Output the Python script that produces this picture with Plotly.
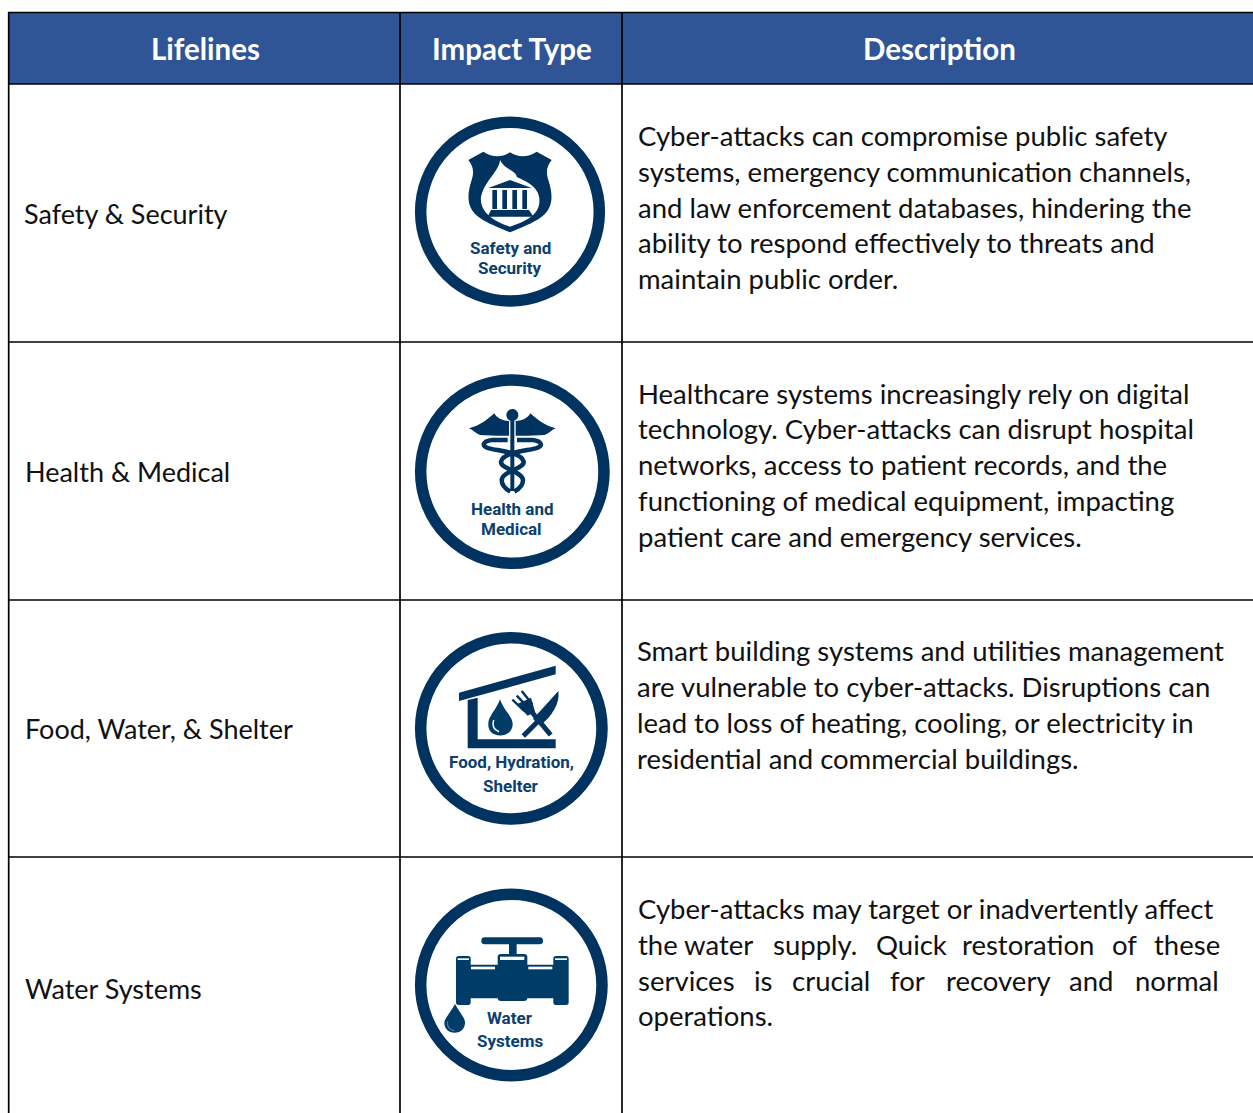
import re
import plotly.graph_objects as go

W, H = 1253, 1113
NAVY = "#00335f"
NAVY2 = "#003c68"
TXT = "#111111"
HEADER = "#2f5597"

headers = ["Lifelines", "Impact Type", "Description"]
header_x = [205, 512, 939]
lifelines = ["Safety &amp; Security", "Health &amp; Medical", "Food, Water, &amp; Shelter", "Water Systems"]
lifeline_x = [24, 25, 25, 25]
lifeline_y = [213, 471, 728, 988]
desc_lines = [
    ["Cyber-attacks can compromise public safety", "systems, emergency communication channels,",
     "and law enforcement databases, hindering the", "ability to respond effectively to threats and",
     "maintain public order."],
    ["Healthcare systems increasingly rely on digital", "technology. Cyber-attacks can disrupt hospital",
     "networks, access to patient records, and the", "functioning of medical equipment, impacting",
     "patient care and emergency services."],
    ["Smart building systems and utilities management", "are vulnerable to cyber-attacks. Disruptions can",
     "lead to loss of heating, cooling, or electricity in", "residential and commercial buildings."],
    ["Cyber-attacks may target or inadvertently affect", "operations."],
]
desc_y = [[135, 171, 207, 242, 278], [393, 428, 464, 500, 536], [650, 686, 722, 758], [908, 1015]]
desc_x = [638, 638, 637, 638]
justified_words = [["the", "water", "supply.", "Quick", "restoration", "of", "these"],
                   ["services", "is", "crucial", "for", "recovery", "and", "normal"]]
justified_x = [[638, 684.4, 773, 875.5, 961.8, 1111.5, 1153.6],
               [638, 754, 792, 890, 946, 1069, 1135]]
justified_y = [944, 980]
icon_labels = [["Safety and", "Security"], ["Health and", "Medical"], ["Food, Hydration,", "Shelter"], ["Water", "Systems"]]
icon_label_x = [[510, 510], [511.7, 511.7], [511, 511], [510, 510]]
icon_label_y = [[247.7, 268], [509, 529], [761.7, 785.7], [1018, 1040.7]]
icon_origin = [(405, 105), (405, 365), (405, 625), (405, 880)]
ring_center = [(315, 320), (322, 320), (319, 310), (319, 315)]
ring_radius = [285, 292, 289, 289]

shapes = []


def add(d, ox, oy, fill=NAVY, line=None, width=0):
    nums = iter(re.findall(r"-?\d+\.?\d*|[A-Za-z]", d))
    out, is_x = [], True
    for t in nums:
        if t.isalpha():
            out.append(t)
            is_x = True
        else:
            v = float(t) / 3 + (ox if is_x else oy)
            out.append(f"{v:.2f}")
            is_x = not is_x
    s = dict(type="path", xref="x", yref="y", path=" ".join(out), layer="above",
             fillcolor=fill if fill else "rgba(0,0,0,0)",
             line=dict(color=line if line else "rgba(0,0,0,0)", width=width))
    shapes.append(s)


def rect(x0, y0, x1, y1, ox, oy, fill=NAVY):
    add(f"M{x0},{y0} L{x1},{y0} L{x1},{y1} L{x0},{y1} Z", ox, oy, fill)


def rrect(x0, y0, x1, y1, r, ox, oy, fill=NAVY):
    add(f"M{x0 + r},{y0} L{x1 - r},{y0} Q{x1},{y0} {x1},{y0 + r} L{x1},{y1 - r} Q{x1},{y1} {x1 - r},{y1} "
        f"L{x0 + r},{y1} Q{x0},{y1} {x0},{y1 - r} L{x0},{y0 + r} Q{x0},{y0} {x0 + r},{y0} Z", ox, oy, fill)


def stroke(d, ox, oy, width, color=NAVY):
    add(d, ox, oy, None, color, width)


# table frame
shapes.append(dict(type="rect", xref="x", yref="y", x0=8.5, x1=W + 2, y0=12, y1=84, fillcolor=HEADER,
                   line=dict(width=0), layer="below"))
LINE = dict(color="#000000", width=1.7)
for y in [12.5, 84, 342, 600, 857]:
    shapes.append(dict(type="line", xref="x", yref="y", x0=8, x1=W + 2, y0=y, y1=y, line=LINE))
for x in [8.7, 400, 622]:
    shapes.append(dict(type="line", xref="x", yref="y", x0=x, x1=x, y0=12, y1=H + 2, line=LINE))

# rings
for (ox, oy), (cx, cy), r in zip(icon_origin, ring_center, ring_radius):
    mid = (r - 17) / 3
    px, py = ox + cx / 3, oy + cy / 3
    shapes.append(dict(type="circle", xref="x", yref="y", x0=px - mid, x1=px + mid, y0=py - mid, y1=py + mid,
                       line=dict(color=NAVY, width=11.5), fillcolor="#ffffff"))

# icon 1 shield
ox, oy = icon_origin[0]
add("M190,165 L235,140 C262,158 292,158 315,142 C340,158 368,158 395,140 L440,165 C425,185 422,200 430,225 "
    "C445,270 445,310 410,335 C385,355 345,368 315,382 C285,368 245,355 220,335 C185,310 185,270 200,225 "
    "C208,200 205,185 190,165 Z", ox, oy)
add("M285,165 C282,200 240,225 228,275 C222,325 275,352 315,365 C360,350 408,330 403,280 "
    "C400,245 362,228 335,216 C336,198 300,195 285,165 Z", ox, oy, "#ffffff")
add("M250,249 L315,225 L380,249 Z", ox, oy)
for a in [262, 292, 322, 352]:
    rect(a, 255, a + 14, 312, ox, oy)
add("M258,315 L372,315 L385,335 L248,335 Z", ox, oy)

# icon 2 caduceus
ox, oy = icon_origin[1]
add("M304,150 C304,140 312,132 322,132 C332,132 340,140 340,150 C340,160 332,168 322,168 C312,168 304,160 304,150 Z", ox, oy)
rect(316, 165, 328, 378, ox, oy)
add("M192,190 C225,182 245,165 268,145 C275,160 295,168 312,168 L312,212 C285,214 250,210 225,210 "
    "C212,206 205,195 192,190 Z", ox, oy)
add("M452,190 C419,182 399,165 376,145 C369,160 349,168 332,168 L332,212 C359,214 394,210 419,210 "
    "C432,206 439,195 452,190 Z", ox, oy)
stroke("M308,225 L262,225 C232,228 228,245 252,250 C285,258 350,262 356,290 C358,312 292,318 290,345 "
       "C290,360 302,372 316,380", ox, oy, 4.5)
stroke("M336,225 L382,225 C412,228 416,245 392,250 C359,258 294,262 288,290 C286,312 352,318 354,345 "
       "C354,360 342,372 328,380", ox, oy, 4.5)

# icon 3 shelter
ox, oy = icon_origin[2]
add("M162,203 L452,122 L452,148 L162,228 Z", ox, oy)
add("M188,225 L218,218 L218,343 L452,343 L452,370 L188,370 Z", ox, oy)
add("M285,223 C298,260 325,275 323,300 C320,342 250,342 250,300 C248,275 272,258 285,223 Z", ox, oy, NAVY2)
stroke("M266,285 C260,305 268,315 282,320", ox, oy, 1.5, "#ffffff")
stroke("M378,258 L437,330", ox, oy, 5)
stroke("M322,224 L358,258", ox, oy, 2.4)
stroke("M335,212 L370,248", ox, oy, 2.4)
stroke("M350,198 L382,238", ox, oy, 2.4)
add("M335,238 L378,218 L390,260 L368,272 Z", ox, oy)
add("M460,198 C466,235 440,275 405,302 L384,282 Z", ox, oy)
stroke("M396,292 L355,333", ox, oy, 5)

# icon 4 valve
ox, oy = icon_origin[3]
rrect(229, 172, 414, 193, 10, ox, oy, NAVY2)
rect(312, 188, 335, 225, ox, oy, NAVY2)
rrect(153, 228, 197, 375, 8, ox, oy, NAVY2)
rrect(445, 228, 491, 375, 8, ox, oy, NAVY2)
rect(190, 254, 450, 355, ox, oy, NAVY2)
rrect(278, 222, 367, 363, 10, ox, oy, NAVY2)
rect(198, 260, 270, 268, ox, oy, "#ffffff")
rect(370, 260, 442, 268, ox, oy, "#ffffff")
rect(285, 230, 358, 240, ox, oy, "#ffffff")
rect(158, 235, 192, 240, ox, oy, "#ffffff")
rect(450, 235, 486, 240, ox, oy, "#ffffff")
add("M150,372 C165,400 182,415 180,430 C178,468 120,468 118,430 C118,415 135,400 150,372 Z", ox, oy, NAVY2)
stroke("M128,425 C126,442 135,450 148,452", ox, oy, 1, "#6f93b0")

# text
BODY = "Lato"
BODY_SIZE = 27.5
ann = []


def text(x, y, s, size, color=TXT, family=BODY, anchor="left", bold=False, weight=None):
    font = dict(family=family, size=size, color=color)
    if weight:
        font["weight"] = weight
    ann.append(dict(x=x, y=y, xref="x", yref="y", text=f"<b>{s}</b>" if bold else s, showarrow=False,
                    xanchor=anchor, yanchor="middle", align=anchor,
                    font=font, borderpad=0, borderwidth=0))


for s, x in zip(headers, header_x):
    text(x, 48, s, 29.5, "#ffffff", "Lato", "center", True)
for s, x, y in zip(lifelines, lifeline_x, lifeline_y):
    text(x, y, s, 27)
for lines, ys, x in zip(desc_lines, desc_y, desc_x):
    for s, y in zip(lines, ys):
        text(x, y, s, BODY_SIZE)
for words, xs, y in zip(justified_words, justified_x, justified_y):
    for s, x in zip(words, xs):
        text(x, y, s, BODY_SIZE)
for lines, xs, ys in zip(icon_labels, icon_label_x, icon_label_y):
    for s, x, y in zip(lines, xs, ys):
        text(x, y, s, 17, "#0a3f6e", "Roboto", "center", weight=700)

fig = go.Figure()
fig.update_layout(
    width=W, height=H, margin=dict(l=0, r=0, t=0, b=0), paper_bgcolor="#ffffff", plot_bgcolor="#ffffff",
    xaxis=dict(range=[0, W], visible=False, fixedrange=True),
    yaxis=dict(range=[H, 0], visible=False, fixedrange=True),
    shapes=shapes, annotations=ann, showlegend=False,
)
fig.write_html("out.html", config=dict(displayModeBar=False),
               post_script="document.body.style.margin='0';document.body.style.overflow='hidden';")
